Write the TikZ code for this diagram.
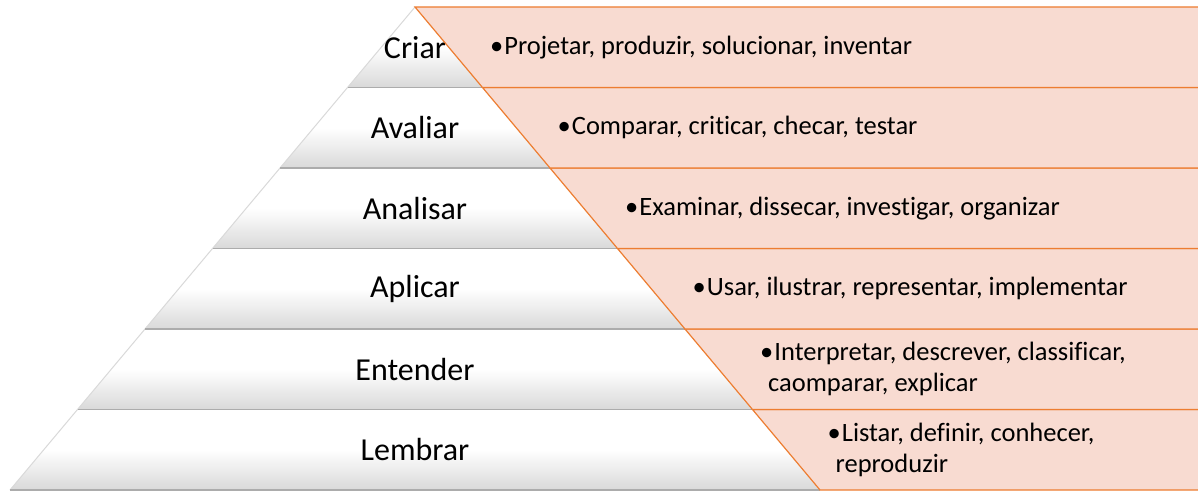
\documentclass[tikz,border=0pt]{standalone}
\usepackage{fontspec}
\setmainfont{Carlito}[Ligatures=NoCommon]
\usetikzlibrary{calc}
\definecolor{laranja}{HTML}{ED7D31}
\definecolor{salmao}{HTML}{F8DBD1}
\newcommand{\marca}{\textbullet\kern1pt}
\tikzset{
  nivel/.style={top color=white,bottom color=gray!30,middle color=white},
  borda/.style={gray!30,line width=1pt},
  base/.style={gray!65,line width=1.5pt},
  faixa/.style={fill=salmao,draw=laranja,line width=1.2pt},
  rotulo/.style={font=\fontsize{32}{36}\selectfont,inner sep=0pt},
  texto/.style={font=\fontsize{26.5}{31}\selectfont,inner sep=0pt,anchor=west,align=left}
}
\begin{document}
\begin{tikzpicture}[x=1pt,y=1pt]
  \useasboundingbox (0,0) rectangle (1198,491);
  \def\h{80.5}
  % piramide, de baixo para cima
  \foreach \i/\nome/\rot in {0/lembrar/Lembrar,1/entender/Entender,2/aplicar/Aplicar,3/analisar/Analisar,4/avaliar/Avaliar,5/criar/Criar}{
    \pgfmathsetmacro\yb{1+\h*\i}
    \pgfmathsetmacro\yt{\yb+\h}
    \pgfmathsetmacro\wb{(484-\yb)/483*405}
    \pgfmathsetmacro\wt{(484-\yt)/483*405}
    \shade[nivel](415-\wb,\yb)--(415+\wb,\yb)--(415+\wt,\yt)--(415-\wt,\yt)--cycle;
    \draw[borda](415-\wb,\yb)--(415-\wt,\yt);
    \draw[base](415-\wb,\yb)--(415+\wb,\yb);
    \node[rotulo] (\nome) at (415,\yb+\h/2){\rot};
  }
  % faixas laranja com os verbos
  \foreach \i/\nome/\txt in {0/lembrar/{\marca Listar, definir, conhecer,\\\hspace*{0.3em}reproduzir},
      1/entender/{\marca Interpretar, descrever, classificar,\\\hspace*{0.3em}caomparar, explicar},
      2/aplicar/{\marca Usar, ilustrar, representar, implementar},
      3/analisar/{\marca Examinar, dissecar, investigar, organizar},
      4/avaliar/{\marca Comparar, criticar, checar, testar},
      5/criar/{\marca Projetar, produzir, solucionar, inventar}}{
    \pgfmathsetmacro\yb{1+\h*\i}
    \pgfmathsetmacro\yt{\yb+\h}
    \pgfmathsetmacro\wb{(484-\yb)/483*405}
    \pgfmathsetmacro\wt{(484-\yt)/483*405}
    \filldraw[faixa](1198,\yt)--(415+\wt,\yt)--(415+\wb,\yb)--(1198,\yb);
    \node[texto] (v\nome) at (415+\wt+75,\yb+\h/2){\txt};
  }
\end{tikzpicture}
\end{document}
